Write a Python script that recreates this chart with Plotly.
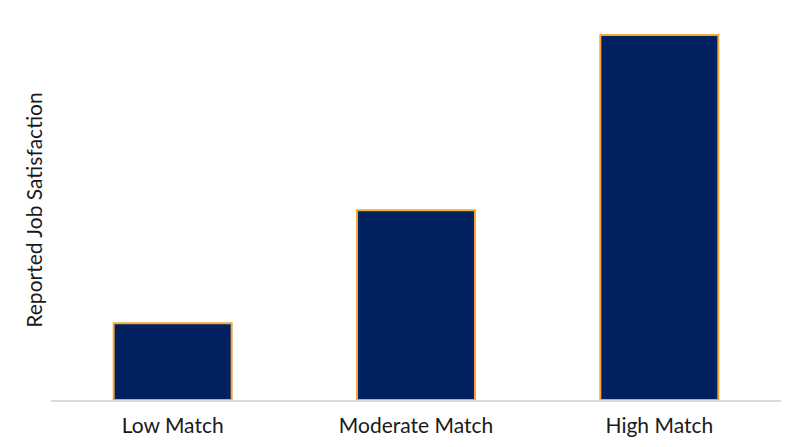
import plotly.graph_objects as go

# Job satisfaction by degree of match
categories = ["Low Match", "Moderate Match", "High Match"]
satisfaction = [2.1, 5.2, 10.0]

fig = go.Figure()

fig.add_trace(go.Bar(
    x=categories,
    y=satisfaction,
    width=0.485,
    marker=dict(color="#002060", line=dict(color="#F2A93B", width=2)),
))

fig.update_layout(
    width=800,
    height=447,
    margin=dict(l=43, r=27, t=12, b=55),
    plot_bgcolor="white",
    paper_bgcolor="white",
    font=dict(family="Lato, Open Sans, sans-serif", size=21, color="#1a1a1a"),
    showlegend=False,
    xaxis=dict(
        showline=True,
        linecolor="#d9d9d9",
        linewidth=1.5,
        ticks="outside",
        ticklen=6,
        tickcolor="rgba(0,0,0,0)",
        tickfont=dict(size=21),
        automargin=False,
    ),
    yaxis=dict(
        range=[0, 10.41],
        showgrid=False,
        showticklabels=False,
        zeroline=False,
        title=dict(text="Reported Job Satisfaction", standoff=1, font=dict(size=21)),
        automargin=False,
    ),
)

fig.write_html("out.html")
